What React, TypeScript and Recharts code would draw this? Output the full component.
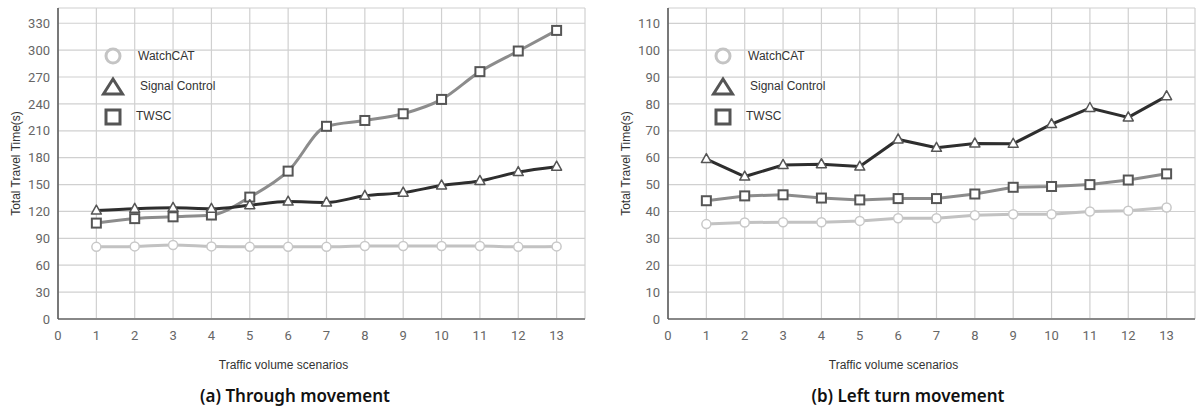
import React from 'react';
import { LineChart, Line, XAxis, YAxis, CartesianGrid, Legend, Label } from 'recharts';

const scenarios = [1, 2, 3, 4, 5, 6, 7, 8, 9, 10, 11, 12, 13];
const xTicks = [0, 1, 2, 3, 4, 5, 6, 7, 8, 9, 10, 11, 12, 13];
const seriesNames = ['WatchCAT', 'Signal Control', 'TWSC'];

// (a) Through movement
const throughYTicks = [0, 30, 60, 90, 120, 150, 180, 210, 240, 270, 300, 330];
const throughWatchCAT = [80.5, 81, 82.5, 81, 80.5, 80.5, 80.5, 81.5, 81.5, 81.5, 81.5, 80.5, 81];
const throughSignal = [121, 123, 124, 123, 127, 131, 130, 137.5, 141, 149, 154, 164, 170];
const throughTWSC = [107, 112, 114, 116, 136, 165, 215, 221.5, 229, 245, 276, 299, 322];

// (b) Left turn movement
const leftYTicks = [0, 10, 20, 30, 40, 50, 60, 70, 80, 90, 100, 110];
const leftWatchCAT = [35.3, 35.9, 36, 36, 36.5, 37.5, 37.5, 38.6, 39, 39, 40, 40.3, 41.5];
const leftSignal = [59.5, 53, 57.3, 57.6, 56.7, 66.8, 63.7, 65.3, 65.2, 72.5, 78.5, 75, 82.9];
const leftTWSC = [44, 45.8, 46.2, 45, 44.3, 44.8, 44.8, 46.5, 49, 49.3, 50, 51.7, 54];

const captions = ['(a) Through movement', '(b) Left turn movement'];
const xTitle = 'Traffic volume scenarios';
const yTitle = 'Total Travel Time(s)';

const buildRows = (w: number[], s: number[], t: number[]) =>
  scenarios.map((x, i) => ({ x, watchcat: w[i], signal: s[i], twsc: t[i] }));

const C_WATCH_LINE = '#c2c2c2';
const C_WATCH_MARK = '#c8c8c8';
const C_SIGNAL_LINE = '#2e2e2e';
const C_TWSC_LINE = '#8c8c8c';
const C_MARK = '#555555';

const CircleDot = (p: any) =>
  p.cx == null ? null : (
    <circle key={`c${p.index}`} cx={p.cx} cy={p.cy} r={4.5} fill="#fff" stroke={C_WATCH_MARK} strokeWidth={1.5} />
  );

const TriDot = (p: any) => {
  if (p.cx == null) return null;
  const { cx, cy } = p;
  return (
    <polygon
      key={`t${p.index}`}
      points={`${cx},${cy - 5.5} ${cx + 5},${cy + 3.5} ${cx - 5},${cy + 3.5}`}
      fill="#fff"
      stroke={C_MARK}
      strokeWidth={1.5}
      strokeLinejoin="round"
    />
  );
};

const SqDot = (p: any) =>
  p.cx == null ? null : (
    <rect key={`s${p.index}`} x={p.cx - 4.5} y={p.cy - 4.5} width={9} height={9} fill="#fff" stroke={C_MARK} strokeWidth={2} />
  );

const legendFont = { fontFamily: 'Liberation Sans, Arial, sans-serif', fontSize: 12, fill: '#333' };

const LegendBox = () => (
  <svg width={140} height={92} style={{ display: 'block' }}>
    <circle cx={17} cy={15} r={7} fill="#fff" stroke="#c4c4c4" strokeWidth={3} />
    <text x={42} y={15} dominantBaseline="central" style={legendFont}>{seriesNames[0]}</text>
    <polygon points="17,38 26.5,53 7.5,53" fill="#fff" stroke={C_MARK} strokeWidth={3} strokeLinejoin="miter" />
    <text x={44} y={45} dominantBaseline="central" style={legendFont}>{seriesNames[1]}</text>
    <rect x={10} y={69} width={14} height={14} fill="#fff" stroke={C_MARK} strokeWidth={3} />
    <text x={40} y={75} dominantBaseline="central" style={legendFont}>{seriesNames[2]}</text>
  </svg>
);

const XTitle = (props: any) => {
  const vb = props.viewBox || {};
  return (
    <text
      x={vb.x + vb.width / 2 - 38}
      y={vb.y + 46}
      textAnchor="middle"
      dominantBaseline="central"
      style={{ fontFamily: 'Liberation Sans, Arial, sans-serif', fontSize: 12, fill: '#333' }}
    >
      {xTitle}
    </text>
  );
};

const YTitle = (props: any) => {
  const vb = props.viewBox || {};
  const x = vb.x + 16;
  const y = vb.y + vb.height / 2;
  return (
    <text
      x={x}
      y={y}
      transform={`rotate(-90 ${x} ${y})`}
      textAnchor="middle"
      dominantBaseline="central"
      style={{ fontFamily: 'Liberation Sans, Arial, sans-serif', fontSize: 12, fill: '#333' }}
    >
      {yTitle}
    </text>
  );
};

const tickStyle = { fontFamily: 'Roboto, sans-serif', fontSize: 13, fill: '#666' };

type PanelProps = {
  rows: any[];
  yTicks: number[];
  yMax: number;
  width: number;
  right: number;
  curve: 'monotone' | 'linear';
};

const Panel = ({ rows, yTicks, yMax, width, right, curve }: PanelProps) => (
  <LineChart width={width} height={382} data={rows} margin={{ top: 8, right, bottom: 0, left: 0 }}>
    <CartesianGrid stroke="#d0d0d0" strokeWidth={1.2} />
    <XAxis
      dataKey="x"
      type="number"
      domain={[0, 13.74]}
      ticks={xTicks}
      interval={0}
      height={63}
      tickLine={false}
      tickMargin={6}
      axisLine={{ stroke: '#888', strokeWidth: 2 }}
      tick={tickStyle}
      allowDataOverflow
    >
      <Label content={<XTitle />} />
    </XAxis>
    <YAxis
      type="number"
      domain={[0, yMax]}
      ticks={yTicks}
      interval={0}
      width={58}
      tickLine={false}
      axisLine={{ stroke: '#555', strokeWidth: 1.5 }}
      tick={tickStyle}
      allowDataOverflow
    >
      <Label content={<YTitle />} />
    </YAxis>
    <Legend
      layout="vertical"
      align="center"
      verticalAlign="middle"
      content={() => <LegendBox />}
      wrapperStyle={{ left: 96, top: 41, width: 140, height: 92 }}
    />
    <Line
      type={curve}
      dataKey="watchcat"
      name={seriesNames[0]}
      stroke={C_WATCH_LINE}
      strokeWidth={3}
      dot={CircleDot}
      activeDot={false}
      isAnimationActive={false}
    />
    <Line
      type={curve}
      dataKey="twsc"
      name={seriesNames[2]}
      stroke={C_TWSC_LINE}
      strokeWidth={3}
      dot={SqDot}
      activeDot={false}
      isAnimationActive={false}
    />
    <Line
      type={curve}
      dataKey="signal"
      name={seriesNames[1]}
      stroke={C_SIGNAL_LINE}
      strokeWidth={3}
      dot={TriDot}
      activeDot={false}
      isAnimationActive={false}
    />
  </LineChart>
);

const captionStyle: React.CSSProperties = {
  position: 'absolute',
  top: 384,
  width: 300,
  textAlign: 'center',
  fontFamily: '"Noto Sans", "Open Sans", sans-serif',
  fontWeight: 600,
  fontSize: 17,
  lineHeight: '24px',
  color: '#111',
};

export default function App() {
  const throughRows = buildRows(throughWatchCAT, throughSignal, throughTWSC);
  const leftRows = buildRows(leftWatchCAT, leftSignal, leftTWSC);
  return (
    <div style={{ position: 'absolute', left: 0, top: 0, width: 1201, height: 409, overflow: 'hidden', background: '#fff' }}>
      <div style={{ position: 'absolute', left: 0, top: 0 }}>
        <Panel rows={throughRows} yTicks={throughYTicks} yMax={347} width={600} right={15} curve="monotone" />
      </div>
      <div style={{ position: 'absolute', left: 610, top: 0 }}>
        <Panel rows={leftRows} yTicks={leftYTicks} yMax={115.7} width={591} right={6} curve="linear" />
      </div>
      <div style={{ ...captionStyle, left: 295 - 150 }}>{captions[0]}</div>
      <div style={{ ...captionStyle, left: 908 - 150 }}>{captions[1]}</div>
    </div>
  );
}
